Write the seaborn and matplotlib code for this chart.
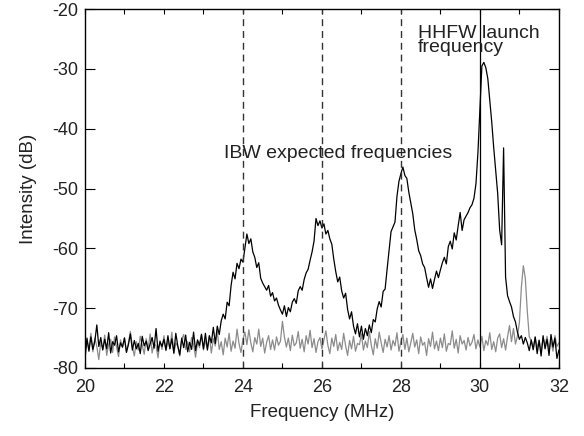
import numpy as np
import matplotlib
matplotlib.use("Agg")
import matplotlib.pyplot as plt
import seaborn as sns
from matplotlib.ticker import MultipleLocator

# Frequências (MHz), passo de 0.05
freq = np.round(20 + 0.05 * np.arange(241), 2)

# Espectro com HHFW (preto), uma linha por MHz
com_hhfw = [
    -78.5, -75.0, -77.2, -74.8, -76.9, -75.5, -72.8, -76.4, -74.9, -77.0, -75.2, -76.8, -74.1, -77.5, -75.6, -76.2, -74.6, -77.3, -75.8, -76.5,
    -75.0, -77.4, -76.1, -74.3, -77.0, -75.4, -76.8, -75.9, -77.6, -74.7, -76.3, -75.5, -77.1, -76.0, -74.9, -76.7, -73.4, -77.2, -75.6, -76.4,
    -75.2, -77.0, -74.6, -76.8, -75.1, -77.5, -74.2, -76.3, -77.8, -75.0, -76.6, -74.5, -77.3, -75.7, -76.9, -74.0, -77.1, -75.3, -76.2, -74.4,
    -76.8, -74.2, -77.0, -74.6, -75.8, -73.2, -75.9, -73.0, -74.4, -72.1, -71.0, -71.8, -69.0, -69.6, -66.2, -64.0, -65.1, -62.5, -63.4, -61.8,
    -62.3, -60.0, -57.6, -59.2, -58.4, -60.6, -61.5, -63.2, -62.4, -65.0, -65.8, -66.4, -67.0, -66.2, -68.0, -67.4, -68.8, -68.3, -69.5, -70.3,
    -71.0, -69.6, -71.4, -69.9, -70.6, -69.0, -68.4, -69.2, -67.1, -66.4, -67.0, -65.2, -64.1, -63.5, -62.0, -60.6, -58.8, -55.0, -56.2, -55.4,
    -56.6, -55.9, -57.6, -57.0, -58.4, -59.3, -61.8, -63.9, -65.6, -64.8, -67.1, -68.3, -67.5, -70.2, -71.8, -70.6, -73.0, -74.3, -72.6, -74.8,
    -73.0, -75.2, -73.4, -74.6, -72.8, -74.1, -71.9, -72.3, -70.1, -68.9, -69.8, -67.2, -66.8, -63.5, -60.4, -57.2, -56.4, -55.6, -51.3, -48.8,
    -47.5, -46.4, -47.8, -48.3, -50.6, -52.4, -54.2, -56.9, -58.5, -60.4, -61.2, -62.6, -63.2, -64.9, -66.5, -65.1, -66.7, -65.2, -63.8, -64.9,
    -63.6, -62.4, -61.5, -62.6, -59.7, -58.8, -60.1, -57.4, -58.6, -56.2, -54.0, -57.0, -55.2, -54.6, -54.0, -53.2, -52.7, -51.6, -49.2, -44.0,
    -36.8, -29.5, -28.9, -29.8, -31.6, -35.2, -38.9, -43.2, -47.1, -50.8, -56.9, -59.4, -43.2, -64.8, -67.9, -68.9, -69.8, -71.4, -72.3, -74.0,
    -75.2, -74.6, -76.0, -74.9, -75.8, -77.1, -75.3, -76.9, -74.8, -77.6, -75.4, -78.0, -74.6, -76.8, -75.2, -77.9, -74.4, -76.5, -75.0, -78.4,
    -77.0,
]

# Espectro de referência (cinza)
referencia = [
    -77.8, -75.4, -76.9, -74.2, -77.3, -75.0, -76.4, -78.6, -75.7, -76.8, -74.5, -77.9, -76.0, -75.2, -77.4, -74.8, -76.5, -78.1, -75.3, -76.6,
    -74.9, -77.2, -75.8, -73.9, -76.4, -78.0, -75.6, -77.0, -74.7, -76.2, -77.7, -75.1, -76.8, -74.3, -77.5, -75.9, -76.3, -78.3, -75.4, -76.9,
    -74.6, -77.1, -75.5, -76.7, -74.0, -77.6, -75.8, -76.4, -78.0, -75.2, -74.4, -76.9, -75.6, -77.3, -74.9, -76.1, -78.2, -75.7, -76.6, -74.3,
    -77.0, -75.4, -76.8, -74.6, -77.5, -75.1, -76.3, -73.8, -76.9, -75.6, -77.8, -75.0, -76.5, -74.2, -77.2, -75.5, -76.7, -73.5, -75.9, -77.4,
    -75.2, -74.0, -76.1, -73.6, -75.8, -77.3, -74.9, -76.0, -73.5, -76.4, -75.0, -77.5, -75.7, -74.6, -76.9, -75.3, -77.0, -74.8, -76.2, -75.5,
    -72.2, -74.8, -76.5, -75.0, -77.1, -74.5, -76.3, -75.8, -73.9, -76.7, -75.2, -77.3, -74.6, -76.0, -73.7, -76.6, -75.1, -77.4, -75.6, -74.9,
    -76.8, -75.3, -73.8, -76.2, -77.6, -75.0, -76.4, -74.4, -77.1, -75.7, -76.9, -74.2, -76.3, -77.9, -75.4, -76.8, -74.7, -77.2, -75.9, -76.1,
    -74.3, -77.0, -75.5, -76.6, -73.9, -76.2, -77.8, -75.1, -76.7, -74.0, -75.8, -77.4, -75.2, -76.5, -74.6, -77.0, -75.4, -76.3, -74.1, -77.2,
    -75.6, -74.4, -76.9, -75.0, -77.3, -75.8, -74.2, -76.5, -75.3, -77.6, -74.8, -76.2, -75.7, -77.9, -75.1, -76.4, -74.0, -76.8, -75.5, -77.1,
    -75.0, -76.6, -74.3, -77.2, -75.9, -76.1, -73.8, -76.7, -75.2, -77.5, -74.6, -76.0, -75.4, -77.0, -74.9, -76.3, -75.7, -74.4, -76.8, -75.3,
    -76.5, -74.7, -77.1, -75.4, -76.2, -74.1, -76.9, -75.6, -77.3, -75.0, -74.3, -76.6, -75.1, -77.0, -74.8, -72.9, -75.6, -73.4, -76.0, -74.7,
    -72.4, -66.5, -62.9, -65.0, -70.5, -74.8, -75.4, -77.0, -74.9, -76.6, -75.3, -77.4, -75.0, -76.2, -74.7, -76.9, -75.5, -77.2, -74.6, -76.4,
    -75.8,
]

# Linhas verticais
freq_ibw = [24, 26, 28]
freq_hhfw = 30

sns.set_theme(style="ticks")
plt.rcParams["font.family"] = ["Liberation Sans", "DejaVu Sans"]
plt.rcParams["axes.unicode_minus"] = False
plt.rcParams["text.color"] = "#222222"
plt.rcParams["axes.labelcolor"] = "#222222"
plt.rcParams["xtick.color"] = "black"
plt.rcParams["ytick.color"] = "black"
plt.rcParams["xtick.labelcolor"] = "#222222"
plt.rcParams["ytick.labelcolor"] = "#222222"

fig = plt.figure(figsize=(5.84, 4.36), dpi=100)
ax = fig.add_axes([0.1455, 0.156, 0.8115, 0.823])

sns.lineplot(x=freq, y=referencia, color="#8c8c8c", lw=0.9, ax=ax)
sns.lineplot(x=freq, y=com_hhfw, color="black", lw=0.9, ax=ax)

for f in freq_ibw:
    ax.axvline(f, color="#333333", lw=1.0, ls=(0, (5, 3.5)))
ax.axvline(freq_hhfw, color="black", lw=0.9)

ax.text(23.52, -44.9, "IBW expected frequencies", fontsize=14, va="baseline", ha="left")
# texto em duas linhas, espaçamento apertado como no original
ax.text(28.43, -27.2, "HHFW launch\nfrequency", fontsize=14, va="baseline", ha="left",
        linespacing=0.78)

ax.set_xlim(20, 32)
ax.set_ylim(-80, -20)
ax.xaxis.set_major_locator(MultipleLocator(2))
ax.xaxis.set_minor_locator(MultipleLocator(1))
ax.yaxis.set_major_locator(MultipleLocator(10))

ax.tick_params(axis="x", which="both", direction="in", top=True, length=3.5, width=0.8,
               labelsize=13, pad=8)
ax.tick_params(axis="y", which="both", direction="in", right=True, length=7, width=0.8,
               labelsize=13, pad=5)

for s in ax.spines.values():
    s.set_visible(True)
    s.set_linewidth(1.0)
    s.set_color("black")

ax.set_xlabel("Frequency (MHz)", fontsize=13.5, labelpad=6)
ax.set_ylabel("Intensity (dB)", fontsize=13.5, labelpad=11)

fig.savefig("out.png", dpi=100)
